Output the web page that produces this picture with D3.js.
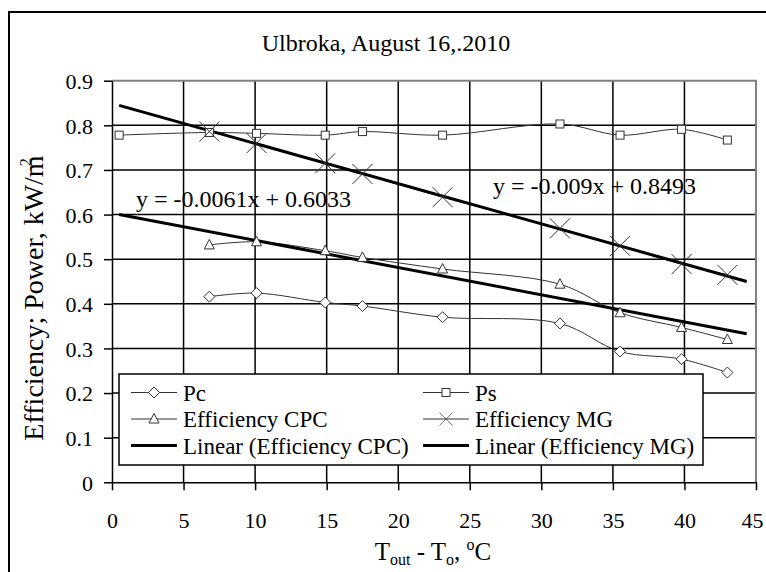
<!DOCTYPE html>
<html>
<head>
<meta charset="utf-8">
<title>Ulbroka, August 16 2010</title>
<style>
body {
  margin: 0;
  background: #fff;
}
svg text {
  font-family: "Liberation Serif", "Times New Roman", Times, "DejaVu Serif", serif;
}
.grid line {
  stroke: #000;
  stroke-width: 1.5px;
}
.axis path, .axis line {
  stroke: #000;
  stroke-width: 1.5px;
}
.axis text {
  font-size: 22px;
  fill: #000;
}
.series {
  fill: none;
  stroke: #333;
  stroke-width: 1px;
}
.trend {
  fill: none;
  stroke: #000;
  stroke-width: 3px;
}
.marker {
  fill: #fff;
  stroke: #333;
  stroke-width: 1px;
}
</style>
<script src="https://d3js.org/d3.v7.min.js"></script>
</head>
<body>
<script>
// data
const xVals  = [0.5, 6.8, 10.1, 14.9, 17.5, 23.1, 31.3, 35.5, 39.8, 43.0];
const pc     = [null, 0.416, 0.424, 0.403, 0.395, 0.370, 0.356, 0.293, 0.276, 0.246];
const ps     = [0.778, 0.784, 0.782, 0.778, 0.786, 0.778, 0.803, 0.778, 0.791, 0.767];
const effCPC = [null, 0.532, 0.539, 0.519, 0.504, 0.478, 0.444, 0.380, 0.347, 0.320];
const effMG  = [null, 0.786, 0.760, 0.715, 0.691, 0.639, 0.569, 0.530, 0.489, 0.465];

// linear trendlines (from the equations on the chart)
const trendNames = ['Linear (Efficiency CPC)', 'Linear (Efficiency MG)'];
const trendSlope = [-0.0061, -0.009];
const trendIntercept = [0.6033, 0.8493];
const trendLabels = ['y = -0.0061x + 0.6033', 'y = -0.009x + 0.8493'];
const trendRange = [0.5, 44.35];

const xTicks = [0, 5, 10, 15, 20, 25, 30, 35, 40, 45];
const yTicks = [0, 0.1, 0.2, 0.3, 0.4, 0.5, 0.6, 0.7, 0.8, 0.9];

const width = 766, height = 572;

const svg = d3.select('body').append('svg')
  .attr('width', width)
  .attr('height', height);

// outer chart border
svg.append('rect')
  .attr('x', 9).attr('y', 12)
  .attr('width', 800).attr('height', 600)
  .attr('fill', 'none')
  .attr('stroke', '#000')
  .attr('stroke-width', 2);

const x = d3.scaleLinear().domain([0, 45]).range([112, 756]);
const y = d3.scaleLinear().domain([0, 0.9]).range([482.3, 80.7]);

// title
svg.append('text')
  .attr('x', 386).attr('y', 51)
  .attr('text-anchor', 'middle')
  .style('font-size', '24px')
  .text('Ulbroka, August 16,.2010');

// gridlines
const grid = svg.append('g').attr('class', 'grid');
grid.selectAll('.h').data(yTicks.slice(1, -1)).enter().append('line')
  .attr('x1', x(0)).attr('x2', x(45))
  .attr('y1', d => y(d)).attr('y2', d => y(d));
grid.selectAll('.v').data(xTicks.slice(1, -1)).enter().append('line')
  .attr('x1', d => x(d)).attr('x2', d => x(d))
  .attr('y1', y(0)).attr('y2', y(0.9));

// plot area border top / right (grey)
svg.append('path')
  .attr('d', `M${x(0)},${y(0.9)}H${x(45)}V${y(0)}`)
  .attr('fill', 'none')
  .attr('stroke', '#808080')
  .attr('stroke-width', 2);

// axes
svg.append('g')
  .attr('class', 'axis')
  .attr('transform', `translate(${x(0)},0)`)
  .call(d3.axisLeft(y).tickValues(yTicks).tickSize(8).tickSizeOuter(0).tickPadding(11).tickFormat(d => d))
  .call(g => g.attr('font-family', null).selectAll('text').attr('dy', '0.35em'));

svg.append('g')
  .attr('class', 'axis')
  .attr('transform', `translate(0,${y(0)})`)
  .call(d3.axisBottom(x).tickValues(xTicks).tickSize(8).tickSizeOuter(0).tickPadding(22).tickFormat(d => d))
  .call(g => g.attr('font-family', null))
  .call(g => g.selectAll('text').filter(d => d === 45).attr('dx', -4));

// axis titles
svg.append('text')
  .attr('transform', 'translate(43,298) rotate(-90)')
  .attr('text-anchor', 'middle')
  .style('font-size', '28px')
  .call(t => {
    t.append('tspan').text('Efficiency; Power, kW/m');
    t.append('tspan').attr('dx', -11).attr('dy', -12).style('font-size', '16px').text('2');
  });

svg.append('text')
  .attr('x', 433).attr('y', 560)
  .attr('text-anchor', 'middle')
  .style('font-size', '25px')
  .call(t => {
    t.append('tspan').text('T');
    t.append('tspan').attr('dy', 5).style('font-size', '16px').text('out');
    t.append('tspan').attr('dy', -5).text(' - T');
    t.append('tspan').attr('dy', 5).style('font-size', '16px').text('o');
    t.append('tspan').attr('dy', -5).text(', ');
    t.append('tspan').attr('dy', -10).style('font-size', '16px').text('o');
    t.append('tspan').attr('dy', 10).text('C');
  });

// series
const series = [
  {name: 'Pc', values: pc, marker: 'diamond'},
  {name: 'Ps', values: ps, marker: 'square'},
  {name: 'Efficiency CPC', values: effCPC, marker: 'triangle'},
  {name: 'Efficiency MG', values: effMG, marker: 'cross'}
];

const line = d3.line()
  .x(d => x(d[0]))
  .y(d => y(d[1]))
  .curve(d3.curveCatmullRom.alpha(0.5));

svg.selectAll('.series').data(series).enter().append('path')
  .attr('class', 'series')
  .attr('d', s => line(xVals.map((v, i) => [v, s.values[i]]).filter(d => d[1] != null)));

// trendlines
svg.selectAll('.trend').data(trendSlope).enter().append('line')
  .attr('class', 'trend')
  .attr('x1', x(trendRange[0]))
  .attr('x2', x(trendRange[1]))
  .attr('y1', (m, i) => y(m * trendRange[0] + trendIntercept[i]))
  .attr('y2', (m, i) => y(m * trendRange[1] + trendIntercept[i]));

function drawMarker(g, type) {
  if (type === 'diamond') {
    g.append('path').attr('class', 'marker').attr('d', 'M0,-5.5L5.5,0L0,5.5L-5.5,0Z');
  } else if (type === 'square') {
    g.append('rect').attr('class', 'marker').attr('x', -4).attr('y', -4).attr('width', 8).attr('height', 8);
  } else if (type === 'triangle') {
    g.append('path').attr('class', 'marker').attr('d', 'M0,-5.5L5,4L-5,4Z');
  } else if (type === 'cross') {
    g.append('path').attr('class', 'marker').attr('d', 'M-10,-10L10,10M-10,10L10,-10');
  }
}

series.forEach(s => {
  xVals.forEach((v, i) => {
    if (s.values[i] == null) return;
    const g = svg.append('g').attr('transform', `translate(${x(v)},${y(s.values[i])})`);
    drawMarker(g, s.marker);
  });
});

// equation labels
svg.append('text')
  .attr('x', 136).attr('y', 207)
  .style('font-size', '24px')
  .text(trendLabels[0]);
svg.append('text')
  .attr('x', 493).attr('y', 194)
  .style('font-size', '24px')
  .text(trendLabels[1]);

// legend
const legend = svg.append('g');
legend.append('rect')
  .attr('x', 119).attr('y', 374)
  .attr('width', 584).attr('height', 91)
  .attr('fill', '#fff')
  .attr('stroke', '#000')
  .attr('stroke-width', 1.5);

const legendItems = [
  {name: 'Pc', marker: 'diamond'},
  {name: 'Ps', marker: 'square'},
  {name: 'Efficiency CPC', marker: 'triangle'},
  {name: 'Efficiency MG', marker: 'cross'},
  {name: trendNames[0], marker: null},
  {name: trendNames[1], marker: null}
];
const colX = [131, 423];
const rowY = [392.5, 419, 445.5];

legendItems.forEach((d, i) => {
  const lx = colX[i % 2], ly = rowY[Math.floor(i / 2)];
  const g = legend.append('g').attr('transform', `translate(${lx},${ly})`);
  g.append('line')
    .attr('x1', 0).attr('x2', 46)
    .attr('stroke', d.marker ? '#333' : '#000')
    .attr('stroke-width', d.marker ? 1 : 3);
  if (d.marker) {
    const m = g.append('g').attr('transform', 'translate(23,0)' + (d.marker === 'cross' ? ' scale(0.65)' : ''));
    drawMarker(m, d.marker);
  }
  g.append('text')
    .attr('x', 52).attr('dy', '0.35em')
    .style('font-size', '23px')
    .text(d.name);
});
</script>
</body>
</html>
